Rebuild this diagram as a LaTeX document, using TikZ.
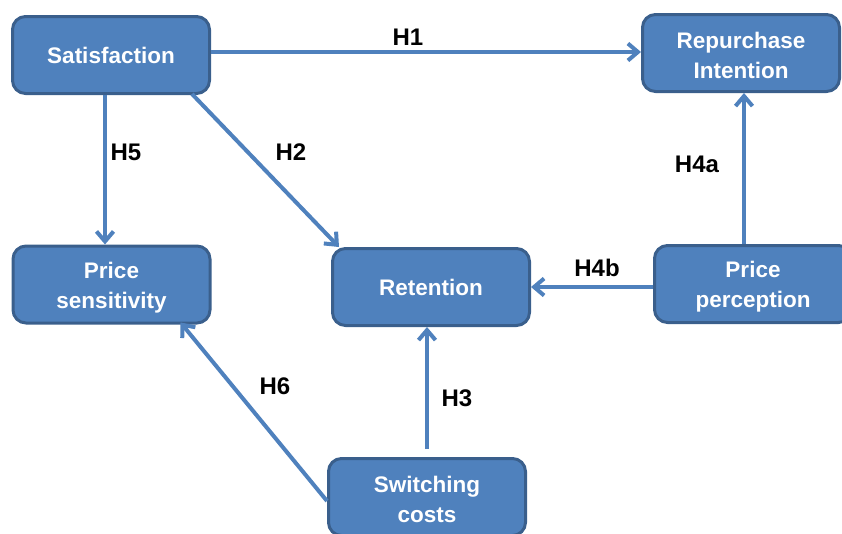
\documentclass[tikz,border=0pt]{standalone}
\usepackage{fontspec}
\setmainfont{Liberation Sans}
\usetikzlibrary{arrows.meta}
\definecolor{boxfill}{HTML}{4F81BD}
\definecolor{boxline}{HTML}{3A5F8C}
\definecolor{arrowcol}{HTML}{4F81BD}
\newcommand\tup{\rule{0pt}{22pt}}
\begin{document}
\begin{tikzpicture}[x=1pt,y=-1pt,
  box/.style={draw=boxline, line width=3pt, fill=boxfill, rounded corners=13pt,
    minimum width=197pt, minimum height=77pt, inner sep=0pt, align=center,
    text=white, font=\fontsize{22.5}{30}\selectfont\bfseries},
  arr/.style={draw=arrowcol, line width=4pt, -{Straight Barb[length=10pt,width=17pt,line width=4pt]}},
  lab/.style={font=\fontsize{24}{28}\selectfont\bfseries, text=black, inner sep=0pt}]
\useasboundingbox (0,0) rectangle (842,533);
\node[box] (sat) at (111,55) {Satisfaction};
\node[box] (rep) at (741,53) {\tup Repurchase\\Intention};
\node[box] (ps) at (111.5,284.5) {\tup Price\\sensitivity};
\node[box] (ret) at (431,287) {Retention};
\node[box] (pp) at (753,284) {\tup Price\\perception};
\node[box] (sc) at (427,497) {\tup Switching\\costs};
\coordinate (h1s) at (sat.east |- 0,52);
\coordinate (h1e) at (rep.west |- 0,52);
\draw[arr] (h1s) -- (h1e);
\coordinate (h5s) at ([xshift=-6pt]sat.south);
\coordinate (h5e) at (h5s |- ps.north);
\draw[arr] (h5s) -- (h5e);
\coordinate (h2s) at ([xshift=-19pt,yshift=1pt]sat.south east);
\coordinate (h2e) at ([xshift=8pt]ret.north west);
\draw[arr] (h2s) -- (h2e);
\coordinate (h4as) at ([xshift=-9pt]pp.north);
\coordinate (h4ae) at (h4as |- rep.south);
\draw[arr] (h4as) -- (h4ae);
\coordinate (h4bs) at (pp.west |- ret.east);
\draw[arr] (h4bs) -- (ret.east);
\coordinate (h3e) at (sc.north |- ret.south);
\draw[arr] ([yshift=8pt]sc.north) -- (h3e);
\coordinate (h6s) at ([yshift=-4pt]sc.west);
\coordinate (h6e) at ([xshift=-31pt,yshift=2pt]ps.south east);
\draw[arr] (h6s) -- (h6e);
\node[lab] (l1) at (408,37) {H1};
\node[lab] (l5) at (126,152) {H5};
\node[lab] (l2) at (291,152) {H2};
\node[lab] (l4a) at (697,164) {H4a};
\node[lab] (l4b) at (597,268) {H4b};
\node[lab] (l3) at (457,398) {H3};
\node[lab] (l6) at (275,386) {H6};
\end{tikzpicture}
\end{document}
